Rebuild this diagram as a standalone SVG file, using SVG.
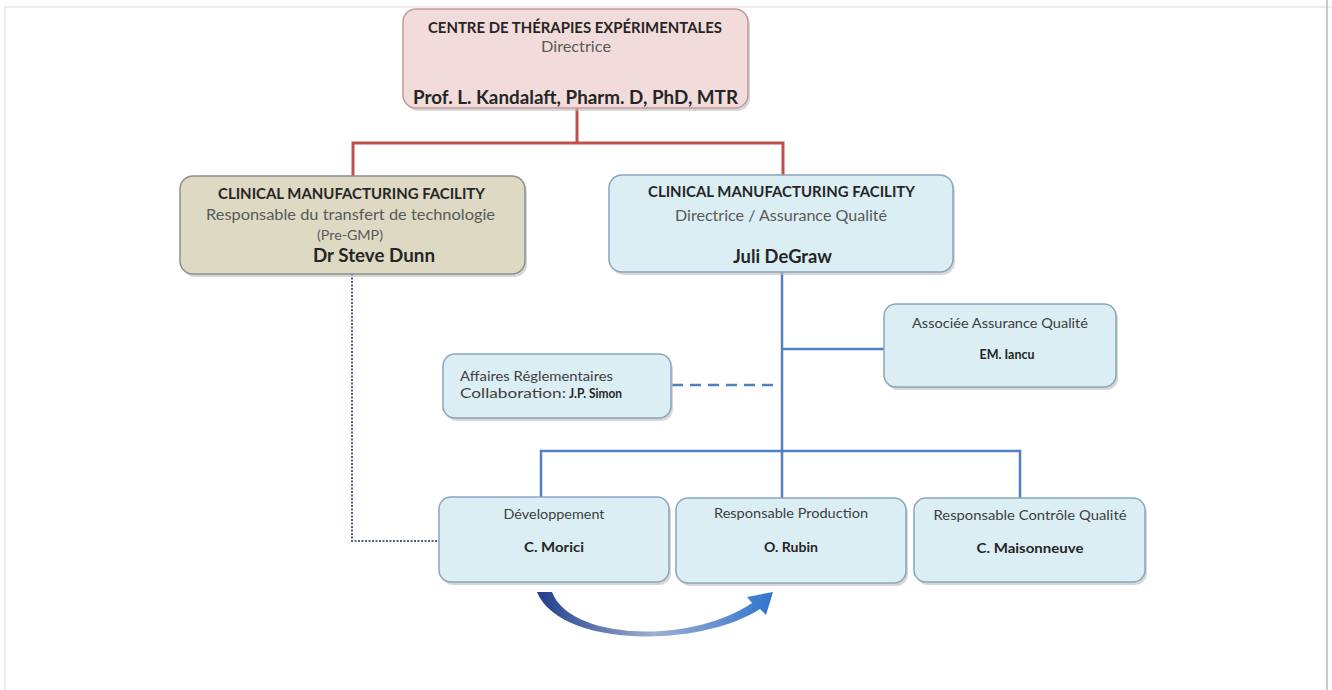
<svg xmlns="http://www.w3.org/2000/svg" width="1332" height="690" viewBox="0 0 1332 690">
<style>
text{font-family:Lato,"Open Sans","Liberation Sans",sans-serif;fill:#262626}
.t{font-weight:bold;text-anchor:middle}
.s{fill:#595959;text-anchor:middle}
.b{font-weight:bold}
.pink{fill:#f2dcdb;stroke:#c49a9a;stroke-width:1.5}
.tan{fill:#ddd9c3;stroke:#8f8f8f;stroke-width:1.5}
.blue{fill:#dbeef4;stroke:#8aa5bd;stroke-width:1.5}
.shadow{fill:#bdbdbd;opacity:0.6}
.red{fill:none;stroke:#c0504d;stroke-width:3}
.bl{fill:none;stroke:#4f81bd;stroke-width:2.5}
</style>
<defs>
<linearGradient id="arrowGrad" x1="0" y1="0" x2="1" y2="0">
<stop offset="0" stop-color="#1f3d8a"/>
<stop offset="0.5" stop-color="#9fb0d0"/>
<stop offset="1" stop-color="#2f74d0"/>
</linearGradient>
</defs>
<rect width="1332" height="690" fill="#ffffff"/>
<g id="frame" fill="none" stroke="#e6e6e6" stroke-width="1.5">
<path d="M5,690 V7 H1332"/>
<path d="M1327,0 V690" stroke="#b8b8b8"/>
</g>
<g id="connectors">
<path class="red" d="M577,108 V143 M353,176 V143 H783 V176"/>
<path class="bl" d="M782,272 V451 M782,349 H884 M541,497 V451 H1020 V498 M782,451 V498"/>
<path d="M672,385 H778" fill="none" stroke="#4f81bd" stroke-width="2.5" stroke-dasharray="11,7"/>
<path d="M352,274 V541 H439" fill="none" stroke="#4a5f8f" stroke-width="2" stroke-dasharray="2,1.5"/>
<path id="flow-arrow" fill="url(#arrowGrad)" d="M537,592 L552,592 C570,640 690,645 752,603 L747,597 L773,592 L766,615 L760,609 C700,648 560,648 537,592 Z"/>
</g>
<g id="n-centre">
<rect class="shadow" x="405" y="12" width="345" height="99" rx="13"/>
<rect class="pink" x="403" y="9" width="345" height="99" rx="13"/>
<text class="t" x="575" y="33" font-size="14.5" textLength="294" lengthAdjust="spacingAndGlyphs">CENTRE DE THÉRAPIES EXPÉRIMENTALES</text>
<text class="s" x="576" y="52" font-size="15" textLength="70" lengthAdjust="spacingAndGlyphs">Directrice</text>
<text class="t" x="575.5" y="104" font-size="18" textLength="325" lengthAdjust="spacingAndGlyphs">Prof. L. Kandalaft, Pharm. D, PhD, MTR</text>
</g>
<g id="n-cmf-tech">
<rect class="shadow" x="182" y="179" width="345" height="98" rx="13"/>
<rect class="tan" x="180" y="176" width="345" height="98" rx="13"/>
<text class="t" x="351.5" y="199" font-size="14.5" textLength="267" lengthAdjust="spacingAndGlyphs">CLINICAL MANUFACTURING FACILITY</text>
<text class="s" x="350.5" y="220" font-size="15.5" textLength="289" lengthAdjust="spacingAndGlyphs">Responsable du transfert de technologie</text>
<text class="s" x="350" y="240" font-size="13" textLength="66" lengthAdjust="spacingAndGlyphs">(Pre-GMP)</text>
<text class="t" x="374" y="262" font-size="18.5" textLength="122" lengthAdjust="spacingAndGlyphs">Dr Steve Dunn</text>
</g>
<g id="n-cmf-qa">
<rect class="shadow" x="611" y="178" width="344" height="97" rx="13"/>
<rect class="blue" x="609" y="175" width="344" height="97" rx="13"/>
<text class="t" x="781.5" y="197" font-size="14.5" textLength="267" lengthAdjust="spacingAndGlyphs">CLINICAL MANUFACTURING FACILITY</text>
<text class="s" x="781" y="221" font-size="15.5" textLength="212" lengthAdjust="spacingAndGlyphs">Directrice / Assurance Qualité</text>
<text class="t" x="782.5" y="263" font-size="18" textLength="99" lengthAdjust="spacingAndGlyphs">Juli DeGraw</text>
</g>
<g id="n-assoc">
<rect class="shadow" x="886" y="307" width="232" height="83" rx="12"/>
<rect class="blue" x="884" y="304" width="232" height="83" rx="12"/>
<text class="s" x="1000" y="328" font-size="14" textLength="176" lengthAdjust="spacingAndGlyphs" style="fill:#404040">Associée Assurance Qualité</text>
<text class="t" x="1007" y="359" font-size="12.5">EM. Iancu</text>
</g>
<g id="n-affaires">
<rect class="shadow" x="445" y="357" width="228" height="64" rx="12"/>
<rect class="blue" x="443" y="354" width="228" height="64" rx="12"/>
<text x="460" y="381" font-size="14" textLength="153" lengthAdjust="spacingAndGlyphs" style="fill:#404040">Affaires Réglementaires</text>
<text x="460" y="398" font-size="14" textLength="106" lengthAdjust="spacingAndGlyphs" style="fill:#404040">Collaboration:</text>
<text class="b" x="569" y="398" font-size="13.5" textLength="53" lengthAdjust="spacingAndGlyphs">J.P. Simon</text>
</g>
<g id="n-dev">
<rect class="shadow" x="441" y="500" width="230" height="85" rx="12"/>
<rect class="blue" x="439" y="497" width="230" height="85" rx="12"/>
<text class="s" x="554" y="519" font-size="14" textLength="101" lengthAdjust="spacingAndGlyphs" style="fill:#404040">Développement</text>
<text class="t" x="554" y="552" font-size="14" textLength="60" lengthAdjust="spacingAndGlyphs">C. Morici</text>
</g>
<g id="n-prod">
<rect class="shadow" x="678" y="501" width="230" height="85" rx="12"/>
<rect class="blue" x="676" y="498" width="230" height="85" rx="12"/>
<text class="s" x="791" y="518" font-size="14" textLength="154" lengthAdjust="spacingAndGlyphs" style="fill:#404040">Responsable Production</text>
<text class="t" x="791" y="552" font-size="14" textLength="54" lengthAdjust="spacingAndGlyphs">O. Rubin</text>
</g>
<g id="n-ctrl">
<rect class="shadow" x="916" y="501" width="231" height="84" rx="12"/>
<rect class="blue" x="914" y="498" width="231" height="84" rx="12"/>
<text class="s" x="1030" y="520" font-size="14" textLength="193" lengthAdjust="spacingAndGlyphs" style="fill:#404040">Responsable Contrôle Qualité</text>
<text class="t" x="1030" y="553" font-size="14" textLength="107" lengthAdjust="spacingAndGlyphs">C. Maisonneuve</text>
</g>
</svg>
